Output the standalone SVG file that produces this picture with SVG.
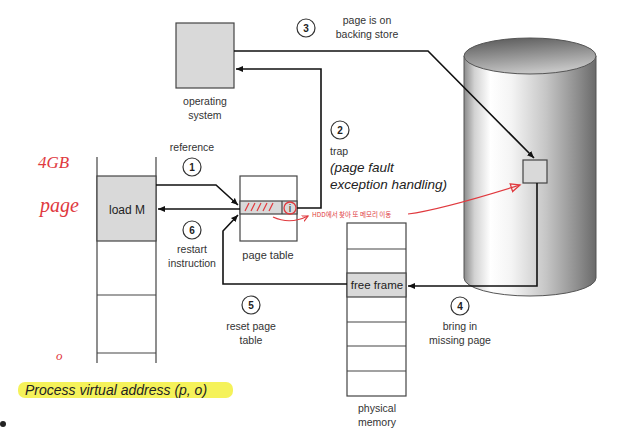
<svg xmlns="http://www.w3.org/2000/svg" width="638" height="433" viewBox="0 0 638 433">
<defs>
<marker id="ah" markerWidth="8" markerHeight="8" refX="7" refY="4" orient="auto" markerUnits="userSpaceOnUse"><path d="M0,1 L7,4 L0,7 Z" fill="#111"/></marker>
<marker id="rah" markerWidth="12" markerHeight="10" refX="10" refY="5" orient="auto" markerUnits="userSpaceOnUse"><path d="M1,1 L10,5 L1,9 Z" fill="none" stroke="#e0393e" stroke-width="1.3"/></marker>
<marker id="rah2" markerWidth="8" markerHeight="8" refX="6" refY="4" orient="auto" markerUnits="userSpaceOnUse"><path d="M0,1 L6,4 L0,7" fill="none" stroke="#e0393e" stroke-width="1.2"/></marker>
<linearGradient id="cyl" x1="0" y1="0" x2="1" y2="0">
<stop offset="0" stop-color="#8a8a8a"/>
<stop offset="0.08" stop-color="#d2d2d2"/>
<stop offset="0.2" stop-color="#ffffff"/>
<stop offset="0.36" stop-color="#f4f4f4"/>
<stop offset="0.62" stop-color="#c6c6c6"/>
<stop offset="0.86" stop-color="#8e8e8e"/>
<stop offset="1" stop-color="#6a6a6a"/>
</linearGradient>
<linearGradient id="cyltop" x1="0" y1="0" x2="0.3" y2="1">
<stop offset="0" stop-color="#555"/>
<stop offset="1" stop-color="#c4c4c4"/>
</linearGradient>
<style>
.t{font-family:"Liberation Sans",Arial,sans-serif;font-size:10.5px;fill:#333;text-anchor:middle}
.tl{font-family:"Liberation Sans",Arial,sans-serif;font-size:12px;fill:#222;text-anchor:middle}
.ti{font-family:"Liberation Sans",Arial,sans-serif;font-size:13.5px;fill:#222;font-style:italic}
.n{font-family:"Liberation Sans",Arial,sans-serif;font-size:10px;font-weight:bold;fill:#222;text-anchor:middle}
.c{fill:#fff;stroke:#333;stroke-width:1.2}
.box{fill:#fff;stroke:#444;stroke-width:1.2}
.gray{fill:#d9d9d9;stroke:#444;stroke-width:1.2}
.ln{fill:none;stroke:#444;stroke-width:1.2}
.con{fill:none;stroke:#111;stroke-width:1.6;marker-end:url(#ah)}
.red{font-family:"Liberation Serif",serif;font-style:italic;fill:#e0393e}
</style>
</defs>
<rect width="638" height="433" fill="#fff"/>

<g id="disk">
<path d="M464,56 L464,278 A66,18 0 0 0 596,278 L596,56 Z" fill="url(#cyl)" stroke="#555" stroke-width="1"/>
<ellipse cx="530" cy="56" rx="66" ry="18" fill="url(#cyltop)" stroke="#555" stroke-width="1"/>
</g>

<g id="disk-page">
<rect x="523" y="160" width="24" height="23" class="gray"/>
</g>

<g id="os">
<rect x="176" y="23" width="58" height="65" class="gray"/>
<text class="t" x="205" y="105">operating</text>
<text class="t" x="205" y="119">system</text>
</g>

<g id="process">
<line x1="97" y1="157" x2="97" y2="363" class="ln"/>
<line x1="156" y1="157" x2="156" y2="363" class="ln"/>
<rect x="97" y="176" width="59" height="65" class="gray"/>
<line x1="97" y1="295" x2="156" y2="295" class="ln"/>
<line x1="97" y1="353" x2="156" y2="353" class="ln"/>
<text class="tl" x="127" y="214">load M</text>
</g>

<g id="page-table">
<rect x="240" y="176" width="57" height="65" class="box"/>
<rect x="240" y="201" width="57" height="13" class="gray"/>
<line x1="282" y1="201" x2="282" y2="214" class="ln"/>
<text class="t" x="290" y="212" style="font-size:11px">i</text>
<text class="t" x="268" y="259" style="font-size:11px">page table</text>
</g>

<g id="physical-memory">
<rect x="347" y="223" width="59" height="173" class="box"/>
<rect x="347" y="273" width="59" height="24" class="gray"/>
<line x1="347" y1="249" x2="406" y2="249" class="ln"/>
<line x1="347" y1="322" x2="406" y2="322" class="ln"/>
<line x1="347" y1="346" x2="406" y2="346" class="ln"/>
<line x1="347" y1="371" x2="406" y2="371" class="ln"/>
<text class="tl" x="377" y="289" style="font-size:11.5px">free frame</text>
<text class="t" x="377" y="412">physical</text>
<text class="t" x="377" y="426">memory</text>
</g>

<g id="connectors">
<path class="con" d="M156,185 L216,185 L238,205"/>
<path class="con" d="M240,209 L158,209"/>
<path class="con" d="M297,208 L321,208 L321,69 L236,69"/>
<path class="con" d="M234,51 L428,51 L534,158"/>
<path class="con" d="M537,183 L537,286 L408,286"/>
<path class="con" d="M347,284 L223,284 L223,231 L238,215"/>
</g>

<g id="labels">
<circle class="c" cx="306" cy="28" r="9"/><text class="n" x="306" y="32">3</text>
<text class="t" x="367" y="24">page is on</text>
<text class="t" x="367" y="38">backing store</text>
<circle class="c" cx="340" cy="130" r="9"/><text class="n" x="340" y="134">2</text>
<text class="t" x="330" y="155" style="text-anchor:start">trap</text>
<text class="ti" x="330" y="172">(page fault</text>
<text class="ti" x="330" y="189">exception handling)</text>
<circle class="c" cx="192" cy="167" r="9"/><text class="n" x="192" y="171">1</text>
<text class="t" x="192" y="151">reference</text>
<circle class="c" cx="192" cy="230" r="9"/><text class="n" x="192" y="234">6</text>
<text class="t" x="192" y="253">restart</text>
<text class="t" x="192" y="267">instruction</text>
<circle class="c" cx="251" cy="305" r="9"/><text class="n" x="251" y="309">5</text>
<text class="t" x="251" y="330">reset page</text>
<text class="t" x="251" y="344">table</text>
<circle class="c" cx="460" cy="306" r="9"/><text class="n" x="460" y="310">4</text>
<text class="t" x="460" y="330">bring in</text>
<text class="t" x="460" y="344">missing page</text>
</g>

<g id="annotations">
<rect x="18" y="382" width="215" height="16" rx="7" fill="#f5f25a"/>
<text class="ti" x="25" y="395" style="font-size:14px">Process virtual address (p, o)</text>
<circle cx="3" cy="424" r="3" fill="#222"/>
<text class="red" x="38" y="168" style="font-size:17px">4GB</text>
<text class="red" x="40" y="212" style="font-size:20px">page</text>
<text class="red" x="56" y="360" style="font-size:13px">o</text>
<path d="M245,211 l4,-8 M251,211 l4,-8 M257,211 l4,-8 M263,211 l4,-8 M269,211 l4,-8" stroke="#e0393e" stroke-width="1.2"/>
<circle cx="290" cy="208" r="6" fill="none" stroke="#e0393e" stroke-width="1.3"/>
<path d="M273,217 Q290,225 308,216" fill="none" stroke="#e0393e" stroke-width="1.2" marker-end="url(#rah2)"/>
<text x="312" y="217" style="font-family:'Noto Sans CJK KR',sans-serif;font-size:6.5px;fill:#e0393e">HDD에서 찾아 또 메모리 이동</text>
<path d="M408,214 Q440,210 520,185" fill="none" stroke="#e0393e" stroke-width="1.2" marker-end="url(#rah)"/>
</g>
</svg>
